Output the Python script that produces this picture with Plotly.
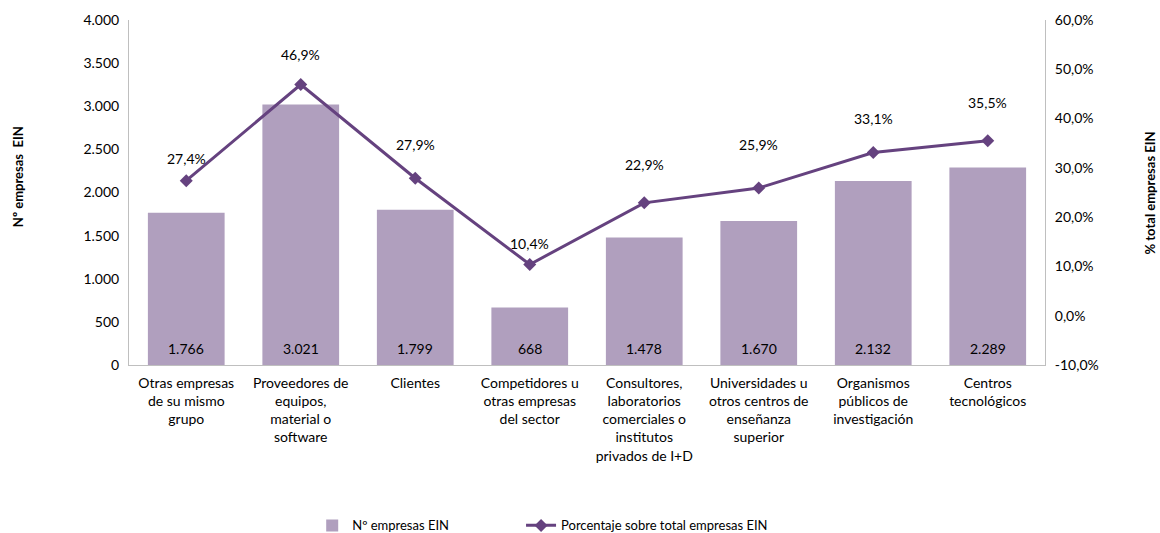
import plotly.graph_objects as go

categories = [
    "Otras empresas<br>de su mismo<br>grupo",
    "Proveedores de<br>equipos,<br>material o<br>software",
    "Clientes",
    "Competidores u<br>otras empresas<br>del sector",
    "Consultores,<br>laboratorios<br>comerciales o<br>institutos<br>privados de I+D",
    "Universidades u<br>otros centros de<br>enseñanza<br>superior",
    "Organismos<br>públicos de<br>investigación",
    "Centros<br>tecnológicos",
]
n_empresas = [1766, 3021, 1799, 668, 1478, 1670, 2132, 2289]
porcentaje = [27.4, 46.9, 27.9, 10.4, 22.9, 25.9, 33.1, 35.5]

left_ticks = [0, 500, 1000, 1500, 2000, 2500, 3000, 3500, 4000]
left_ticktext = ["0", "500", "1.000", "1.500", "2.000", "2.500", "3.000", "3.500", "4.000"]
right_ticks = [-10, 0, 10, 20, 30, 40, 50, 60]
right_ticktext = ["-10,0%", "0,0%", "10,0%", "20,0%", "30,0%", "40,0%", "50,0%", "60,0%"]

# style: vertical offsets (px) of the percentage labels above their markers
pct_label_shift = [22, 30, 34, 21, 38, 44, 34, 38]

FONT = "Lato"
BAR_COLOR = "#B09FBE"
LINE_COLOR = "#65427F"
AXIS_COLOR = "#BFBFBF"

def fmt_int(v):
    return f"{v:,}".replace(",", ".")

def fmt_pct(v):
    return f"{v:.1f}%".replace(".", ",")

fig = go.Figure()
fig.add_trace(go.Bar(
    x=categories, y=n_empresas, name="Nº empresas EIN",
    marker=dict(color=BAR_COLOR, line=dict(width=0)),
    width=0.67, yaxis="y", legend="legend",
))
fig.add_trace(go.Scatter(
    x=categories, y=porcentaje, name="Porcentaje sobre total empresas EIN",
    mode="lines+markers", yaxis="y2", legend="legend2",
    line=dict(color=LINE_COLOR, width=3),
    marker=dict(symbol="diamond", size=10, color=LINE_COLOR),
))

annotations = []
for c, v in zip(categories, n_empresas):
    annotations.append(dict(x=c, y=0, xref="x", yref="y", text=fmt_int(v),
                            showarrow=False, yshift=17,
                            font=dict(family=FONT, size=14, color="#000")))
for c, v, s in zip(categories, porcentaje, pct_label_shift):
    annotations.append(dict(x=c, y=v, xref="x", yref="y2", text=fmt_pct(v),
                            showarrow=False, yshift=s,
                            font=dict(family=FONT, size=14, color="#000")))
annotations.append(dict(x=-0.121, y=0.545, xref="paper", yref="paper",
                        text="<b>Nº empresas  EIN</b>", textangle=-90, showarrow=False,
                        xanchor="center", yanchor="middle",
                        font=dict(family=FONT, size=13, color="#000")))
annotations.append(dict(x=1.1146, y=0.5, xref="paper", yref="paper",
                        text="<b>% total empresas EIN</b>", textangle=-90, showarrow=False,
                        xanchor="center", yanchor="middle",
                        font=dict(family=FONT, size=13, color="#000")))

fig.update_layout(
    width=1160, height=533,
    margin=dict(l=129, r=115, t=20, b=168, autoexpand=False),
    paper_bgcolor="white", plot_bgcolor="white",
    font=dict(family=FONT, size=14, color="#000"),
    showlegend=True,
    legend=dict(orientation="h", x=0.2, xanchor="left", y=-0.465, yanchor="middle",
                font=dict(family=FONT, size=13)),
    legend2=dict(orientation="h", x=0.428, xanchor="left", y=-0.465, yanchor="middle",
                 font=dict(family=FONT, size=13)),
    xaxis=dict(showline=True, linecolor=AXIS_COLOR, linewidth=1, ticks="",
               tickfont=dict(family=FONT, size=14), showgrid=False, automargin=False,
               ticklabelstandoff=5),
    yaxis=dict(range=[0, 4000], tickvals=left_ticks, ticktext=left_ticktext,
               showline=True, linecolor=AXIS_COLOR, linewidth=1, showgrid=False,
               zeroline=False, ticks="", tickfont=dict(family=FONT, size=14),
               automargin=False, ticklabelstandoff=6),
    yaxis2=dict(range=[-10, 60], tickvals=right_ticks, ticktext=right_ticktext,
                overlaying="y", side="right",
                showline=True, linecolor=AXIS_COLOR, linewidth=1, showgrid=False,
                zeroline=False, ticks="", tickfont=dict(family=FONT, size=14),
                automargin=False, ticklabelstandoff=6),
    annotations=annotations,
)

fig.write_html("out.html", config={"displayModeBar": False},
               post_script="document.body.style.margin='0';document.body.style.overflow='hidden';")
